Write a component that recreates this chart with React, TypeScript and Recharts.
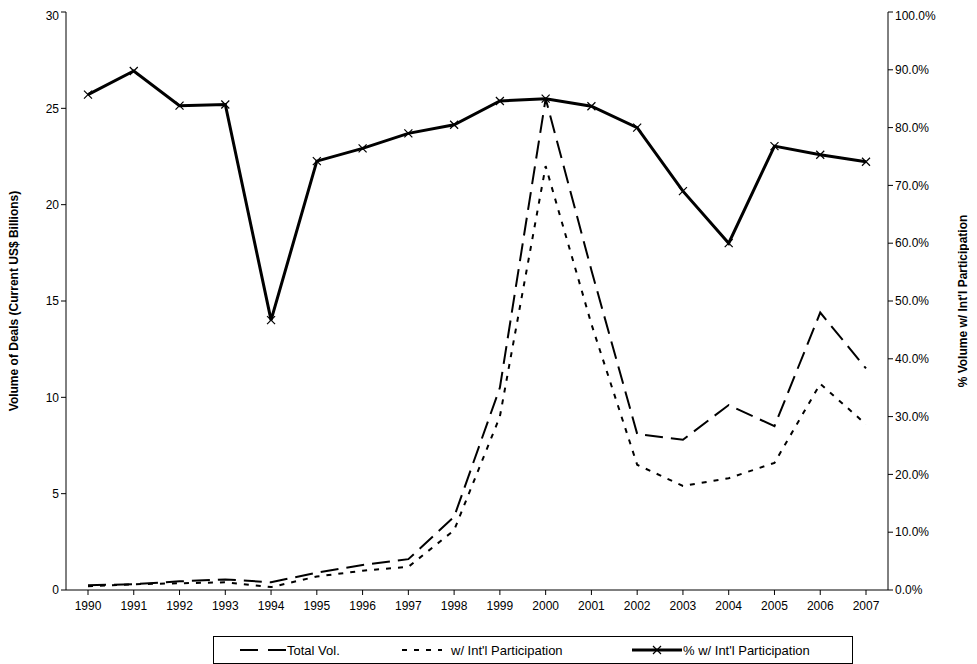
import React from 'react';
import { ComposedChart, Line, XAxis, YAxis, Legend } from 'recharts';

const years = ['1990','1991','1992','1993','1994','1995','1996','1997','1998','1999','2000','2001','2002','2003','2004','2005','2006','2007'];
const totalVol = [0.25,0.3,0.45,0.55,0.4,0.9,1.3,1.6,3.8,10.5,25.5,16.6,8.1,7.8,9.6,8.5,14.4,11.5];
const intlVol = [0.2,0.3,0.35,0.4,0.15,0.7,1.0,1.2,3.1,9.0,22.0,13.8,6.5,5.4,5.8,6.6,10.7,8.6];
const pctIntl = [85.7,89.8,83.8,84.0,46.7,74.2,76.4,79.0,80.5,84.6,85.0,83.7,80.0,69.0,60.0,76.8,75.3,74.1];

const data = years.map((y, i) => ({ year: y, total: totalVol[i], intl: intlVol[i], pct: pctIntl[i] }));
const font = { fontFamily: 'Liberation Sans, Arial, sans-serif', fontSize: 12, fill: '#000' };
const lfont = { ...font, fontSize: 13 };

const Cross = (props: any) => {
  const { cx, cy } = props;
  if (cx == null || cy == null) return null;
  return <path d={`M${cx-4},${cy-4}L${cx+4},${cy+4}M${cx-4},${cy+4}L${cx+4},${cy-4}`} stroke="#000" strokeWidth={1.2} />;
};

const LegendBox = () => (
  <div style={{ display: 'flex', justifyContent: 'center', paddingLeft: 88 }}>
    <svg width={640} height={28}>
      <rect x={0.5} y={0.5} width={639} height={27} fill="#fff" stroke="#000" />
      <line x1={27} x2={73} y1={14} y2={14} stroke="#000" strokeWidth={2} strokeDasharray="18 10" />
      <text x={74} y={18.5} style={lfont}>Total Vol.</text>
      <line x1={189} x2={229} y1={14} y2={14} stroke="#000" strokeWidth={2} strokeDasharray="5 7" />
      <text x={238} y={18.5} style={lfont}>w/ Int'l Participation</text>
      <line x1={419} x2={469} y1={14} y2={14} stroke="#000" strokeWidth={3} />
      <path d="M440,10L448,18M440,18L448,10" stroke="#000" strokeWidth={1.2} />
      <text x={470} y={18.5} style={lfont}>% w/ Int'l Participation</text>
    </svg>
  </div>
);

export default function App() {
  return (
    <ComposedChart width={961} height={664} data={data} margin={{ top: 4, right: 0, left: 0, bottom: 0 }}>
      <XAxis dataKey="year" stroke="#000" tick={font} tickLine={{ stroke: '#000' }} height={46} tickSize={5} tickMargin={6} interval={0} padding={{ left: 22, right: 22 }} />
      <YAxis yAxisId="l" domain={[0, 30]} ticks={[0,5,10,15,20,25,30]} width={58} stroke="#000" tick={font} tickSize={5}
        label={{ value: 'Volume of Deals (Current US$ Billions)', angle: -90, position: 'insideLeft', offset: 6, style: { ...font, fontWeight: 'bold', textAnchor: 'middle' } }} />
      <YAxis yAxisId="r" orientation="right" domain={[0, 100]} ticks={[0,10,20,30,40,50,60,70,80,90,100]} width={81} stroke="#000" tick={font} tickSize={5}
        tickFormatter={(v: number) => v.toFixed(1) + '%'}
        label={{ value: "% Volume w/ Int'l Participation", angle: -90, position: 'insideRight', offset: 6, style: { ...font, fontWeight: 'bold', textAnchor: 'middle' } }} />
      <Legend verticalAlign="bottom" height={36} content={() => <LegendBox />} />
      <Line yAxisId="l" dataKey="total" stroke="#000" strokeWidth={2} strokeDasharray="18 8" dot={false} isAnimationActive={false} type="linear" />
      <Line yAxisId="l" dataKey="intl" stroke="#000" strokeWidth={2} strokeDasharray="5 7" dot={false} isAnimationActive={false} type="linear" />
      <Line yAxisId="r" dataKey="pct" stroke="#000" strokeWidth={3} dot={<Cross />} activeDot={false} isAnimationActive={false} type="linear" />
    </ComposedChart>
  );
}
